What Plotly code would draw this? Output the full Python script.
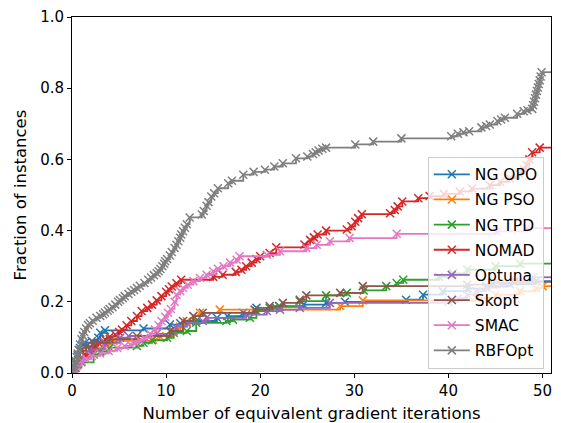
import plotly.graph_objects as go

X_MAX = 50.9

names = ["NG OPO", "NG PSO", "NG TPD", "NOMAD", "Optuna", "Skopt", "SMAC", "RBFOpt"]
colors = ["#1f77b4", "#ff7f0e", "#2ca02c", "#d62728", "#9467bd", "#8c564b", "#e377c2", "#7f7f7f"]

ng_opo_x = [0.2, 0.4, 0.6, 0.85, 1.1, 1.4, 2.1, 2.8, 3.0, 3.5, 7.6, 10.4, 11.5, 13.2, 15.4, 16.5, 18.2, 19.6, 22.0, 24.6, 27.0, 29.0, 35.5, 37.3, 39.4, 42.0, 44.0, 46.5, 49.3]
ng_opo_y = [0.01, 0.03, 0.05, 0.07, 0.08, 0.085, 0.09, 0.099, 0.113, 0.12, 0.125, 0.136, 0.14, 0.146, 0.155, 0.16, 0.169, 0.183, 0.188, 0.192, 0.197, 0.2, 0.206, 0.22, 0.23, 0.237, 0.244, 0.25, 0.258]

ng_pso_x = [0.3, 0.8, 1.6, 2.5, 3.5, 4.4, 8.6, 9.3, 10.8, 11.5, 12.2, 12.9, 13.6, 15.7, 28.5, 30.9, 43.0, 45.0, 47.6, 49.3, 50.0]
ng_pso_y = [0.015, 0.04, 0.062, 0.07, 0.08, 0.09, 0.094, 0.104, 0.118, 0.13, 0.145, 0.16, 0.169, 0.178, 0.188, 0.204, 0.21, 0.22, 0.23, 0.239, 0.244]

ng_tpd_x = [0.4, 1.0, 2.3, 3.0, 4.0, 6.9, 7.6, 8.5, 10.1, 10.8, 12.2, 13.2, 16.4, 17.1, 18.9, 19.6, 21.0, 22.1, 24.2, 27.0, 29.2, 31.0, 33.4, 34.5, 35.2, 39.0, 40.5, 42.0, 45.0, 47.6]
ng_tpd_y = [0.015, 0.03, 0.052, 0.06, 0.071, 0.076, 0.085, 0.092, 0.099, 0.113, 0.118, 0.141, 0.146, 0.15, 0.155, 0.174, 0.183, 0.186, 0.202, 0.218, 0.225, 0.232, 0.244, 0.253, 0.262, 0.27, 0.28, 0.29, 0.3, 0.307]

nomad_x = [0.2, 0.5, 0.9, 1.4, 2.0, 2.4, 2.8, 3.5, 4.0, 4.6, 5.0, 5.3, 5.8, 6.3, 6.9, 7.4, 8.0, 8.5, 9.0, 9.5, 10.0, 10.3, 10.6, 11.1, 11.6, 15.0, 16.0, 17.4, 18.0, 18.5, 19.1, 19.6, 20.0, 21.0, 21.7, 24.7, 25.3, 25.7, 26.1, 27.0, 29.2, 29.7, 30.1, 30.4, 30.8, 33.8, 34.3, 34.6, 35.1, 36.8, 38.0, 39.5, 41.2, 42.5, 44.4, 45.5, 46.5, 47.5, 48.0, 48.3, 48.6, 48.9, 49.7]
nomad_y = [0.01, 0.025, 0.04, 0.052, 0.068, 0.076, 0.085, 0.095, 0.102, 0.108, 0.115, 0.122, 0.134, 0.146, 0.16, 0.174, 0.183, 0.192, 0.204, 0.216, 0.228, 0.235, 0.243, 0.252, 0.262, 0.27, 0.276, 0.284, 0.29, 0.3, 0.31, 0.32, 0.328, 0.337, 0.353, 0.361, 0.374, 0.381, 0.389, 0.4, 0.403, 0.412, 0.425, 0.435, 0.446, 0.449, 0.458, 0.468, 0.482, 0.491, 0.497, 0.503, 0.51, 0.518, 0.528, 0.537, 0.547, 0.56, 0.572, 0.585, 0.6, 0.62, 0.633]

optuna_x = [0.3, 0.9, 1.9, 3.5, 5.1, 6.0, 9.0, 11.0, 12.2, 13.9, 14.3, 18.5, 20.7, 22.1, 24.2, 27.4, 40.0, 41.0, 42.0, 43.0, 44.0, 45.5, 47.0, 49.0]
optuna_y = [0.015, 0.04, 0.066, 0.085, 0.099, 0.104, 0.11, 0.13, 0.14, 0.146, 0.155, 0.164, 0.174, 0.178, 0.183, 0.197, 0.2, 0.21, 0.22, 0.23, 0.24, 0.25, 0.26, 0.269]

skopt_x = [0.2, 0.5, 0.85, 1.5, 2.3, 4.0, 6.9, 10.4, 11.8, 12.9, 13.9, 19.4, 21.0, 22.4, 24.2, 24.9, 28.5, 30.9, 42.0, 44.7, 47.0]
skopt_y = [0.01, 0.03, 0.062, 0.075, 0.085, 0.095, 0.104, 0.118, 0.146, 0.16, 0.169, 0.178, 0.188, 0.197, 0.206, 0.218, 0.225, 0.244, 0.248, 0.253, 0.256]

smac_x = [0.2, 0.5, 1.0, 1.5, 2.1, 3.0, 3.9, 4.8, 5.6, 6.2, 6.7, 7.2, 7.7, 8.3, 8.8, 9.2, 9.5, 9.9, 10.2, 10.5, 10.9, 11.1, 11.5, 11.8, 12.3, 12.9, 13.6, 14.3, 15.0, 15.5, 16.1, 16.8, 17.5, 17.8, 20.7, 22.1, 24.9, 26.0, 27.4, 29.5, 34.5, 45.1, 48.3]
smac_y = [0.01, 0.02, 0.034, 0.04, 0.048, 0.055, 0.062, 0.07, 0.076, 0.08, 0.085, 0.092, 0.099, 0.11, 0.122, 0.134, 0.146, 0.158, 0.169, 0.18, 0.2, 0.22, 0.23, 0.239, 0.248, 0.258, 0.267, 0.276, 0.286, 0.293, 0.3, 0.31, 0.318, 0.328, 0.332, 0.342, 0.351, 0.36, 0.37, 0.379, 0.391, 0.398, 0.407]

rbfopt_x = [0.1, 0.2, 0.3, 0.4, 0.5, 0.6, 0.7, 0.85, 1.0, 1.15, 1.3, 1.5, 1.7, 1.9, 2.2, 2.6, 3.0, 3.3, 3.5, 3.8, 4.0, 4.3, 4.6, 4.9, 5.1, 5.4, 5.6, 6.0, 6.3, 6.6, 6.9, 7.2, 7.7, 8.1, 8.4, 8.7, 9.0, 9.2, 9.4, 9.6, 9.8, 9.9, 10.1, 10.4, 10.6, 10.9, 11.1, 11.3, 11.5, 11.6, 11.8, 12.0, 12.2, 12.5, 13.8, 14.0, 14.3, 14.5, 14.8, 15.1, 15.5, 16.6, 17.0, 18.2, 19.3, 20.5, 21.5, 22.4, 23.8, 25.0, 25.6, 25.9, 26.2, 26.6, 27.0, 30.1, 32.0, 35.0, 40.3, 41.0, 41.6, 42.2, 43.5, 44.0, 44.4, 45.2, 45.6, 46.0, 47.3, 48.0, 48.4, 48.9, 49.0, 49.1, 49.2, 49.3, 49.4, 49.5, 49.6, 49.7, 49.8, 49.9]
rbfopt_y = [0.008, 0.017, 0.025, 0.033, 0.045, 0.055, 0.065, 0.08, 0.095, 0.105, 0.115, 0.125, 0.135, 0.14, 0.147, 0.155, 0.16, 0.165, 0.17, 0.175, 0.18, 0.185, 0.192, 0.2, 0.205, 0.21, 0.216, 0.222, 0.228, 0.233, 0.239, 0.245, 0.253, 0.262, 0.268, 0.275, 0.28, 0.286, 0.292, 0.3, 0.307, 0.314, 0.32, 0.33, 0.34, 0.351, 0.36, 0.37, 0.38, 0.389, 0.398, 0.408, 0.418, 0.437, 0.445, 0.455, 0.47, 0.48, 0.496, 0.505, 0.519, 0.533, 0.54, 0.557, 0.565, 0.571, 0.58, 0.589, 0.603, 0.608, 0.615, 0.62, 0.625, 0.63, 0.633, 0.642, 0.65, 0.659, 0.665, 0.672, 0.676, 0.679, 0.69, 0.694, 0.698, 0.708, 0.712, 0.717, 0.728, 0.735, 0.738, 0.742, 0.752, 0.762, 0.772, 0.782, 0.792, 0.802, 0.812, 0.822, 0.833, 0.845]

x_ticks = [0, 10, 20, 30, 40, 50]
y_ticks = [0.0, 0.2, 0.4, 0.6, 0.8, 1.0]

series = [
    (ng_opo_x, ng_opo_y), (ng_pso_x, ng_pso_y), (ng_tpd_x, ng_tpd_y), (nomad_x, nomad_y),
    (optuna_x, optuna_y), (skopt_x, skopt_y), (smac_x, smac_y), (rbfopt_x, rbfopt_y),
]

FONT = "DejaVu Sans"
fig = go.Figure()
for i, (name, color, (xs, ys)) in enumerate(zip(names, colors, series)):
    xs0 = [0.0] + list(xs)
    ys0 = [0.0] + list(ys)
    fig.add_trace(go.Scatter(
        x=xs0, y=ys0, mode="lines+markers", name=name, legendgroup=f"g{i}",
        line=dict(color=color, width=1.8, shape="hv"),
        marker=dict(symbol="x-thin", size=8, line=dict(color=color, width=1.5), color=color),
    ))
    fig.add_trace(go.Scatter(
        x=[xs[-1], X_MAX + 1], y=[ys[-1], ys[-1]], mode="lines", showlegend=False,
        legendgroup=f"g{i}", line=dict(color=color, width=1.8), hoverinfo="skip",
    ))

axis_common = dict(
    showline=True, linecolor="black", linewidth=1, mirror=True,
    ticks="outside", ticklen=4, tickcolor="black", tickwidth=1,
    showgrid=False, zeroline=False, automargin=False, ticklabeloverflow="allow",
    tickfont=dict(family=FONT, size=15, color="black"),
)

# the page body adds an 8 px offset, so the figure is 8 px smaller on each axis
fig.update_layout(
    width=553, height=415,
    margin=dict(l=64, r=10, t=9, b=50),
    paper_bgcolor="white", plot_bgcolor="white",
    font=dict(family=FONT, color="black"),
    xaxis=dict(range=[0, X_MAX], tickvals=x_ticks, ticktext=[str(v) for v in x_ticks],
               title=dict(text="Number of equivalent gradient iterations",
                          font=dict(family=FONT, size=16.5), standoff=8), **axis_common),
    yaxis=dict(range=[0, 1.0], tickvals=y_ticks, ticktext=[f"{v:.1f}" for v in y_ticks],
               title=dict(text="Fraction of instances", font=dict(family=FONT, size=16.5), standoff=9),
               **axis_common),
    legend=dict(x=0.985, y=0.012, xanchor="right", yanchor="bottom",
                bgcolor="rgba(255,255,255,0.8)", bordercolor="#cccccc", borderwidth=1,
                font=dict(family=FONT, size=15.5, color="black"), tracegroupgap=2,
                itemwidth=36),
    showlegend=True,
)

fig.write_html("out.html")
